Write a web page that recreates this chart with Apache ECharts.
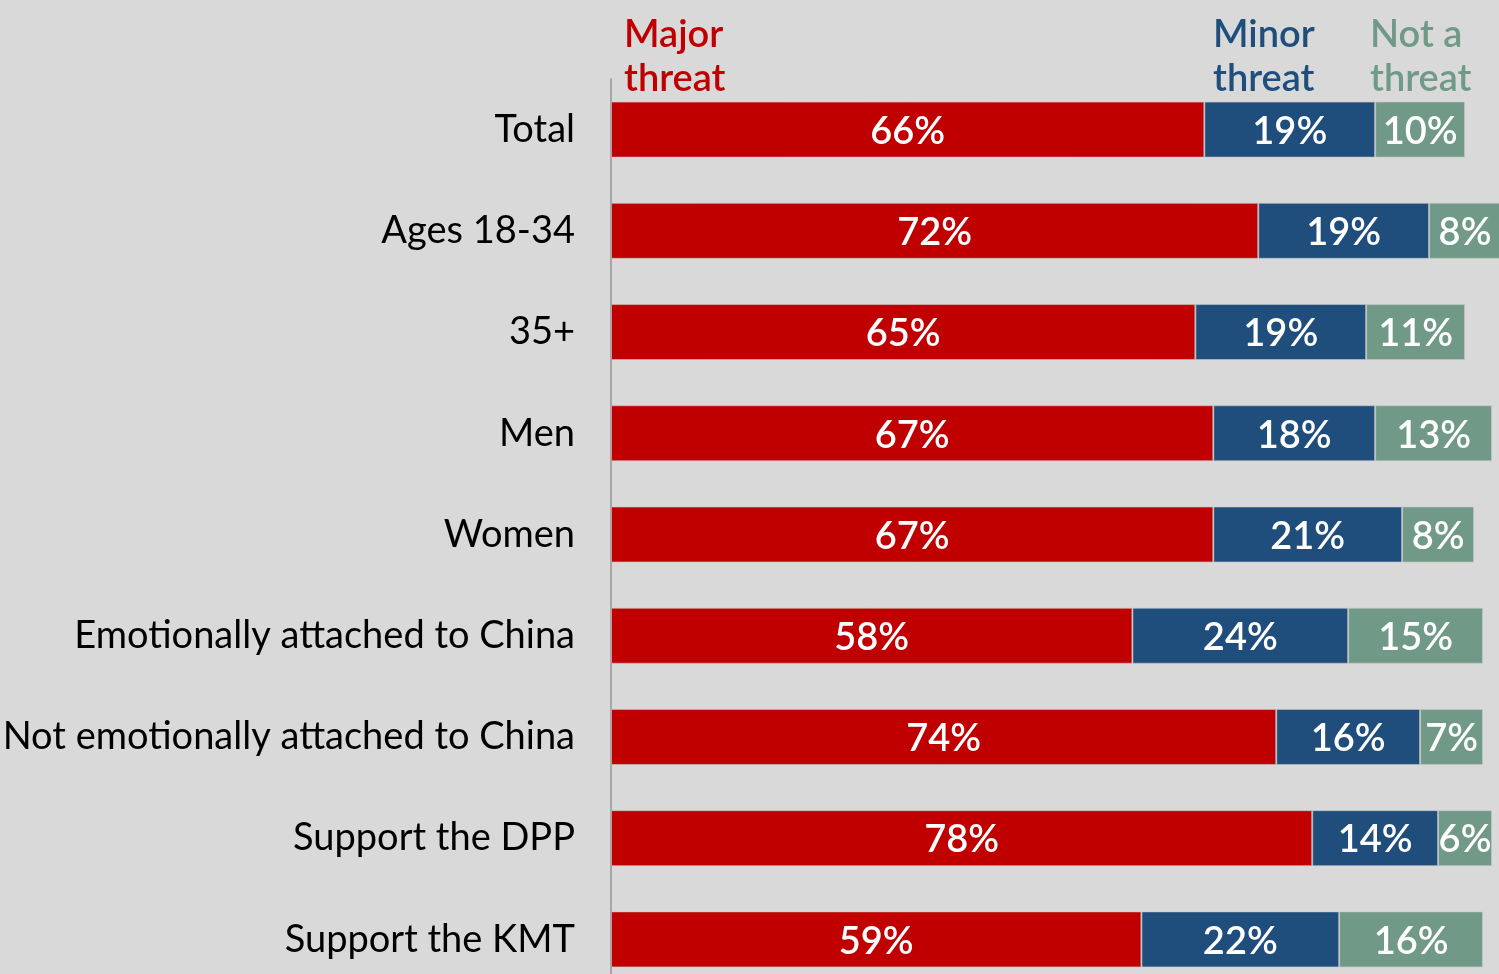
<!DOCTYPE html>
<html>
<head>
<meta charset="utf-8">
<script src="https://cdn.jsdelivr.net/npm/echarts@6/dist/echarts.min.js"></script>
<style>
  html, body { margin: 0; padding: 0; background: #d9d9d9; }
  #chart { width: 1499px; height: 974px; }
</style>
</head>
<body>
<div id="chart"></div>
<script>
const categories = [
  "Total",
  "Ages 18-34",
  "35+",
  "Men",
  "Women",
  "Emotionally attached to China",
  "Not emotionally attached to China",
  "Support the DPP",
  "Support the KMT",
];
const seriesNames = ["Major threat", "Minor threat", "Not a threat"];
const majorThreat = [66, 72, 65, 67, 67, 58, 74, 78, 59];
const minorThreat = [19, 19, 19, 18, 21, 24, 16, 14, 22];
const notAThreat = [10, 8, 11, 13, 8, 15, 7, 6, 16];

const colors = ["#c00000", "#1f4e7c", "#709a87"];
const font = "Lato";

const chart = echarts.init(document.getElementById("chart"));

// one stacked bar series per answer
const makeSeries = (name, data, color) => ({
  name: name,
  type: "bar",
  stack: "all",
  barWidth: 56,
  data: data,
  itemStyle: { color: color, borderColor: "rgba(200,200,200,0.6)", borderWidth: 1 },
  label: {
    show: true,
    position: "inside",
    offset: [0, 2],
    formatter: "{c}%",
    color: "#fff",
    fontFamily: font,
    fontWeight: 600,
    fontSize: 38,
  },
});

const header = (text, x, color) => ({
  type: "text",
  x: x,
  y: 13,
  style: { text: text, fill: color, font: "600 38px Lato", lineHeight: 44 },
});

chart.setOption({
  backgroundColor: "#d9d9d9",
  animation: false,
  grid: { left: 611, top: 79, width: 899, height: 911, outerBoundsMode: "none" },
  xAxis: {
    type: "value",
    min: 0,
    max: 100,
    show: false,
  },
  yAxis: {
    type: "category",
    inverse: true,
    data: categories,
    axisLine: { show: true, lineStyle: { color: "#a6a6a6", width: 2 } },
    axisTick: { show: false },
    axisLabel: {
      margin: 36,
      color: "#000",
      fontFamily: font,
      fontSize: 38,
    },
  },
  graphic: [
    header("Major\nthreat", 624, colors[0]),
    header("Minor\nthreat", 1213, colors[1]),
    header("Not a\nthreat", 1370, colors[2]),
  ],
  series: [
    makeSeries(seriesNames[0], majorThreat, colors[0]),
    makeSeries(seriesNames[1], minorThreat, colors[1]),
    makeSeries(seriesNames[2], notAThreat, colors[2]),
  ],
});
</script>
</body>
</html>
